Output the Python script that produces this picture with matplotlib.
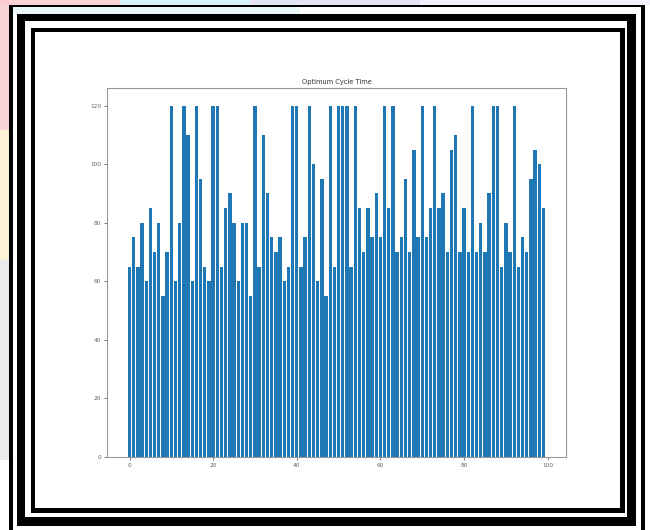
import matplotlib
matplotlib.use("Agg")
import matplotlib.pyplot as plt
from matplotlib.patches import Rectangle

# ---- data ----
trials = list(range(100))
cycle_time = [65, 75, 65, 80, 60, 85, 70, 80, 55, 70,
              120, 60, 80, 120, 110, 60, 120, 95, 65, 60,
              120, 120, 65, 85, 90, 80, 60, 80, 80, 55,
              120, 65, 110, 90, 75, 70, 75, 60, 65, 120,
              120, 65, 75, 120, 100, 60, 95, 55, 120, 65,
              120, 120, 120, 65, 120, 85, 70, 85, 75, 90,
              75, 120, 85, 120, 70, 75, 95, 70, 105, 75,
              120, 75, 85, 120, 85, 90, 70, 105, 110, 70,
              85, 70, 120, 70, 80, 70, 90, 120, 120, 65,
              80, 70, 120, 65, 75, 70, 95, 105, 100, 85]
x_ticks = [0, 20, 40, 60, 80, 100]
y_ticks = [0, 20, 40, 60, 80, 100, 120]
title = "Optimum Cycle Time"

W, H = 650, 530
fig = plt.figure(figsize=(W / 100, H / 100), dpi=100)
fig.patch.set_facecolor("white")


def px_rect(x0, y0, x1, y1, color, z, alpha=1.0):
    # rectangle given in pixel coords (origin top-left)
    r = Rectangle((x0 / W, 1 - y1 / H), (x1 - x0) / W, (y1 - y0) / H,
                  transform=fig.transFigure, facecolor=color, edgecolor="none",
                  zorder=z, alpha=alpha)
    fig.add_artist(r)


# faint watermark colours outside the frames
px_rect(0, 0, 9, 130, "#f7c9cf", 0, 0.8)
px_rect(0, 130, 9, 260, "#fbf1c8", 0, 0.8)
px_rect(0, 260, 9, 460, "#e6e6ea", 0, 0.8)
px_rect(0, 0, 120, 5, "#f7c9cf", 0, 0.8)
px_rect(120, 0, 250, 5, "#cdeff2", 0, 0.8)
px_rect(250, 0, 420, 5, "#dcdcf3", 0, 0.8)
px_rect(420, 0, 650, 5, "#eef0fa", 0, 0.8)

# nested black frames
px_rect(9, 5, 645, 540, "black", 1)
px_rect(13, 7, 641, 540, "white", 2)
px_rect(13, 7, 300, 14, "#dff4f6", 2.5, 0.6)
px_rect(17, 14, 636, 526, "black", 3)
px_rect(25, 21, 627, 517, "white", 4)
px_rect(31, 28, 625, 513, "black", 5)
px_rect(35, 32, 620, 508, "white", 6)

ax = fig.add_axes([107 / W, 1 - 457 / H, (566 - 107) / W, (457 - 88) / H])
ax.set_zorder(10)
ax.bar(trials, cycle_time, color="#1f77b4", width=0.8)
ax.set_title(title, fontsize=4.8, color="#333333", pad=3)
ax.set_xticks(x_ticks)
ax.set_yticks(y_ticks)
ax.tick_params(labelsize=4.2, colors="#666666", length=2, width=0.6, pad=2)
for s in ax.spines.values():
    s.set_color("#999999")
    s.set_linewidth(0.8)

fig.savefig("out.png", dpi=100)
